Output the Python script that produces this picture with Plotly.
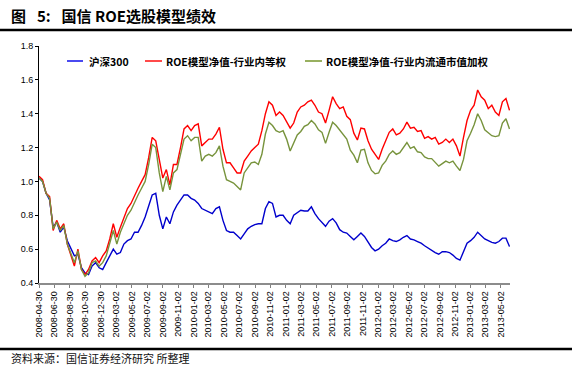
import pandas as pd
import plotly.graph_objects as go

start_date = "2008-04-30"
n_points = 134
dates = pd.date_range(start_date, periods=n_points, freq="14D")

series_names = ["沪深300", "ROE模型净值-行业内等权", "ROE模型净值-行业内流通市值加权"]

hs300 = [1.02, 1.00, 0.93, 0.89, 0.73, 0.76, 0.70, 0.73, 0.65, 0.60,
         0.56, 0.57, 0.49, 0.46, 0.45, 0.50, 0.52, 0.49, 0.48, 0.52,
         0.56, 0.60, 0.57, 0.58, 0.63, 0.65, 0.66, 0.70, 0.70, 0.74,
         0.79, 0.85, 0.92, 0.93, 0.80, 0.72, 0.79, 0.75, 0.82, 0.86,
         0.89, 0.92, 0.92, 0.90, 0.89, 0.87, 0.84, 0.83, 0.82, 0.81,
         0.84, 0.85, 0.77, 0.71, 0.70, 0.70, 0.68, 0.66, 0.69, 0.72,
         0.735, 0.745, 0.75, 0.75, 0.84, 0.88, 0.87, 0.79, 0.80, 0.80,
         0.77, 0.75, 0.80, 0.815, 0.83, 0.825, 0.825, 0.85, 0.81, 0.78,
         0.755, 0.735, 0.765, 0.78, 0.755, 0.715, 0.70, 0.695, 0.675, 0.655,
         0.675, 0.695, 0.675, 0.64, 0.61, 0.59, 0.60, 0.62, 0.635, 0.66,
         0.65, 0.645, 0.655, 0.67, 0.68, 0.66, 0.655, 0.645, 0.635, 0.62,
         0.605, 0.595, 0.58, 0.57, 0.585, 0.585, 0.58, 0.565, 0.545, 0.535,
         0.59, 0.635, 0.65, 0.67, 0.70, 0.68, 0.66, 0.65, 0.64, 0.635,
         0.645, 0.665, 0.665, 0.615]

roe_equal = [1.03, 1.01, 0.93, 0.91, 0.71, 0.77, 0.72, 0.75, 0.63, 0.56,
             0.50, 0.60, 0.48, 0.45, 0.48, 0.53, 0.55, 0.52, 0.56, 0.59,
             0.66, 0.75, 0.67, 0.73, 0.79, 0.84, 0.87, 0.92, 0.96, 1.00,
             1.04, 1.14, 1.26, 1.24, 1.12, 1.02, 1.07, 0.98, 1.10, 1.10,
             1.20, 1.31, 1.33, 1.30, 1.33, 1.34, 1.21, 1.23, 1.25, 1.25,
             1.28, 1.32, 1.19, 1.11, 1.11, 1.08, 1.05, 1.05, 1.12, 1.15,
             1.18, 1.20, 1.22, 1.30, 1.40, 1.47, 1.45, 1.39, 1.41, 1.39,
             1.35, 1.315, 1.345, 1.41, 1.44, 1.45, 1.47, 1.48, 1.45, 1.41,
             1.40, 1.345, 1.42, 1.50, 1.46, 1.43, 1.44, 1.385, 1.365, 1.285,
             1.245, 1.315, 1.31, 1.24, 1.19, 1.16, 1.13, 1.19, 1.24, 1.29,
             1.31, 1.275, 1.285, 1.31, 1.35, 1.315, 1.32, 1.295, 1.30, 1.255,
             1.265, 1.25, 1.26, 1.22, 1.23, 1.25, 1.23, 1.25, 1.21, 1.15,
             1.26, 1.36, 1.42, 1.45, 1.54, 1.50, 1.48, 1.43, 1.45, 1.41,
             1.39, 1.47, 1.49, 1.42]

roe_float = [1.02, 1.00, 0.93, 0.90, 0.72, 0.76, 0.71, 0.74, 0.63, 0.57,
             0.52, 0.59, 0.48, 0.44, 0.46, 0.52, 0.53, 0.50, 0.52, 0.56,
             0.63, 0.71, 0.63, 0.70, 0.75, 0.80, 0.83, 0.88, 0.92, 0.96,
             1.00, 1.10, 1.22, 1.20, 1.05, 0.94, 1.03, 0.95, 1.05, 1.07,
             1.16, 1.25, 1.27, 1.24, 1.26, 1.26, 1.12, 1.15, 1.16, 1.15,
             1.17, 1.21, 1.09, 1.01, 1.00, 0.99, 0.97, 0.95, 1.05, 1.08,
             1.11, 1.115, 1.10, 1.16, 1.28, 1.35, 1.33, 1.30, 1.29, 1.30,
             1.25, 1.18, 1.225, 1.275, 1.295, 1.325, 1.335, 1.36, 1.34, 1.305,
             1.29, 1.225, 1.29, 1.35, 1.33, 1.305, 1.28, 1.25, 1.185, 1.155,
             1.11, 1.185, 1.19, 1.11, 1.065, 1.045, 1.05, 1.095, 1.12, 1.16,
             1.18, 1.16, 1.17, 1.20, 1.23, 1.195, 1.205, 1.175, 1.17, 1.145,
             1.135, 1.135, 1.11, 1.09, 1.105, 1.12, 1.11, 1.12, 1.09, 1.065,
             1.13, 1.24, 1.285, 1.335, 1.40, 1.36, 1.305, 1.285, 1.27, 1.265,
             1.27, 1.345, 1.37, 1.31]

tick_labels = ["2008-04-30", "2008-06-30", "2008-08-30", "2008-10-30", "2008-12-30",
               "2009-03-02", "2009-05-02", "2009-07-02", "2009-09-02", "2009-11-02",
               "2010-01-02", "2010-03-02", "2010-05-02", "2010-07-02", "2010-09-02",
               "2010-11-02", "2011-01-02", "2011-03-02", "2011-05-02", "2011-07-02",
               "2011-09-02", "2011-11-02", "2012-01-02", "2012-03-02", "2012-05-02",
               "2012-07-02", "2012-09-02", "2012-11-02", "2013-01-02", "2013-03-02",
               "2013-05-02"]

colors = ["#0000CC", "#FF0000", "#77933C"]
legend_colors = ["#4A4AF0", "#FF4A4A", "#98B060"]

title_text = "图\u2002 5:\u2002 国信 ROE选股模型绩效"
source_text = "资料来源：国信证券经济研究 所整理"

# ---- layout geometry (pixels) ----
W, H = 572, 368
L, R, T, B = 39, 62, 46, 85
PW, PH = W - L - R, H - T - B


def px(xp):
    return (xp - L) / PW


def py(yp):
    return (H - B - yp) / PH


fig = go.Figure()
for name, vals, col in zip(series_names, [hs300, roe_equal, roe_float], colors):
    fig.add_trace(go.Scatter(x=dates, y=vals, mode="lines", name=name,
                             line=dict(color=col, width=1.4), showlegend=False))

shapes = [
    dict(type="line", xref="paper", yref="paper", x0=px(0), x1=px(W), y0=py(30), y1=py(30),
         line=dict(color="black", width=2.5)),
    dict(type="line", xref="paper", yref="paper", x0=px(0), x1=px(W), y0=py(349), y1=py(349),
         line=dict(color="black", width=2.5)),
]
annotations = [
    dict(text="<b>" + title_text + "</b>", xref="paper", yref="paper", x=px(9), y=py(16),
         xanchor="left", yanchor="middle", showarrow=False,
         font=dict(family="Noto Sans CJK SC", size=15, color="black")),
    dict(text=source_text, xref="paper", yref="paper", x=px(9), y=py(358),
         xanchor="left", yanchor="middle", showarrow=False,
         font=dict(family="Noto Sans CJK SC", size=11, color="#111111")),
]

# manual legend
leg_items = [(67, 83, 87), (145, 162, 164), (305, 322, 324)]
for (x0, x1, xt), name, col in zip(leg_items, series_names, legend_colors):
    shapes.append(dict(type="line", xref="paper", yref="paper", x0=px(x0), x1=px(x1),
                       y0=py(61), y1=py(61), line=dict(color=col, width=2)))
    annotations.append(dict(text="<b>" + name + "</b>", xref="paper", yref="paper",
                            x=px(xt), y=py(61), xanchor="left", yanchor="middle",
                            showarrow=False,
                            font=dict(family="Noto Sans CJK SC", size=10.5, color="black")))

fig.update_layout(
    width=W, height=H,
    margin=dict(l=L, r=R, t=T, b=B, pad=0),
    paper_bgcolor="white", plot_bgcolor="white",
    shapes=shapes, annotations=annotations,
    showlegend=False,
    font=dict(family="Liberation Sans", size=9, color="black"),
)
fig.update_xaxes(
    type="date", range=["2008-04-30", "2013-06-07"],
    tickmode="array", tickvals=tick_labels, ticktext=tick_labels,
    tickangle=-90, tickfont=dict(size=9, family="Liberation Sans"),
    ticks="outside", ticklen=3, tickcolor="#808080",
    showline=True, linecolor="#8C8C8C", linewidth=1.5,
    showgrid=False, zeroline=False,
)
fig.update_yaxes(
    range=[0.4, 1.8], dtick=0.2, tick0=0.4, tickformat=".1f",
    tickfont=dict(size=9, family="Liberation Sans"),
    ticks="outside", ticklen=3, tickcolor="black",
    showline=True, linecolor="black", linewidth=1,
    showgrid=False, zeroline=False,
)

fig.write_html("out.html",
               config={"displayModeBar": False},
               post_script="document.body.style.margin='0px';document.body.style.overflow='hidden';")
